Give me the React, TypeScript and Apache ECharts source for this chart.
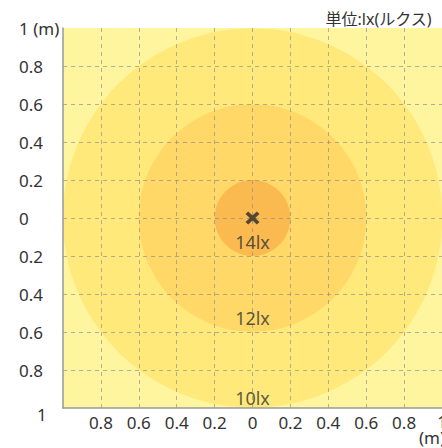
import React, { useEffect, useRef } from "react";
import * as echarts from "echarts";

// Illuminance rings (radius in metres) and their labels
const circleRadii = [1.0, 0.6, 0.2];
const lxLabels = ["14lx", "12lx", "10lx"];
const lxLabelY = [-0.125, -0.525, -0.945];
const centerPoint = [0, 0];

// Tick labels (from min to max)
const xTickLabels = ["", "0.8", "0.6", "0.4", "0.2", "0", "0.2", "0.4", "0.6", "0.8", "1"];
const yTickLabels = ["1", "0.8", "0.6", "0.4", "0.2", "0", "0.2", "0.4", "0.6", "0.8", "1 (m)"];

const unitTitle = "単位:lx(ルクス)";

const ringColors = ["#FFE97B", "#FFD868", "#FABA4F"];
const FONT = "'Noto Sans', 'Noto Sans CJK JP', sans-serif";
const TEXT = "#333333";

export default function App() {
  const ref = useRef<HTMLDivElement>(null);
  useEffect(() => {
    if (!ref.current) return;
    const chart = echarts.init(ref.current, undefined, { renderer: "svg" });
    const gridLine = {
      show: true,
      showMinLine: false,
      showMaxLine: false,
      lineStyle: { color: "rgba(130,130,145,0.6)", type: [4, 4], width: 1 },
    };
    chart.setOption({
      animation: false,
      textStyle: { fontFamily: FONT },
      title: {
        text: unitTitle,
        right: 5,
        top: 6,
        textStyle: { fontSize: 16, fontWeight: "normal", color: TEXT, fontFamily: FONT },
      },
      grid: {
        left: 63,
        right: 0,
        top: 28,
        bottom: 40,
        containLabel: false,
        outerBoundsMode: "none",
        show: true,
        backgroundColor: "#FFF59F",
        borderWidth: 0,
      },
      xAxis: {
        type: "value",
        min: -1,
        max: 1,
        interval: 0.2,
        z: 5,
        axisLine: { show: true, onZero: false, lineStyle: { color: "#999", width: 1.5 } },
        axisTick: { show: false },
        splitLine: gridLine,
        axisLabel: {
          fontSize: 17,
          color: TEXT,
          margin: 6,
          fontFamily: FONT,
          formatter: (v: number) => {
            const idx = Math.round((v + 1) / 0.2);
            const t = xTickLabels[idx] ?? "";
            if (idx === 10) return "{a|" + t + "}\n{m|(m)}";
            return t;
          },
          rich: {
            a: { fontSize: 17, lineHeight: 15, color: TEXT, fontFamily: FONT },
            m: { fontSize: 17, lineHeight: 17, color: TEXT, fontFamily: FONT, padding: [0, 20, 0, 0] },
          },
        },
      },
      yAxis: {
        type: "value",
        min: -1,
        max: 1,
        interval: 0.2,
        z: 5,
        axisLine: { show: true, onZero: false, lineStyle: { color: "#999", width: 1.5 } },
        axisTick: { show: false },
        splitLine: gridLine,
        axisLabel: {
          fontSize: 17,
          color: TEXT,
          align: "left",
          margin: 44,
          fontFamily: FONT,
          formatter: (v: number) => {
            const idx = Math.round((v + 1) / 0.2);
            const t = yTickLabels[idx] ?? "";
            if (idx === 0) return "{b|" + t + "}";
            return t;
          },
          rich: {
            b: { fontSize: 17, color: TEXT, fontFamily: FONT, padding: [12, 0, 0, 18] },
          },
        },
      },
      series: [
        {
          type: "custom",
          coordinateSystem: "cartesian2d",
          clip: true,
          silent: true,
          z: 1,
          data: circleRadii.map((r, i) => [centerPoint[0], centerPoint[1], r, i]),
          encode: { x: 0, y: 1 },
          renderItem: (params: any, api: any) => {
            const c = api.coord([api.value(0), api.value(1)]);
            const s = api.size([api.value(2), api.value(2)]);
            return {
              type: "circle",
              shape: { cx: c[0], cy: c[1], r: (s[0] + s[1]) / 2 },
              style: { fill: ringColors[api.value(3)] },
            };
          },
        },
        {
          type: "scatter",
          z: 10,
          silent: true,
          symbol:
            "path://M0,2.3L2.3,0L6,3.7L9.7,0L12,2.3L8.3,6L12,9.7L9.7,12L6,8.3L2.3,12L0,9.7L3.7,6Z",
          symbolSize: [14, 13],
          itemStyle: { color: "#2a2a2a" },
          data: [centerPoint],
        },
        {
          type: "scatter",
          z: 10,
          silent: true,
          symbolSize: 0,
          label: {
            show: true,
            position: "inside",
            formatter: "{b}",
            color: TEXT,
            fontSize: 18,
            fontFamily: FONT,
          },
          data: lxLabels.map((n, i) => ({ name: n, value: [0, lxLabelY[i]] })),
        },
      ],
    });
    return () => chart.dispose();
  }, []);
  return (
    <div
      ref={ref}
      style={{ position: "absolute", left: 0, top: 0, width: 442, height: 448 }}
    />
  );
}
